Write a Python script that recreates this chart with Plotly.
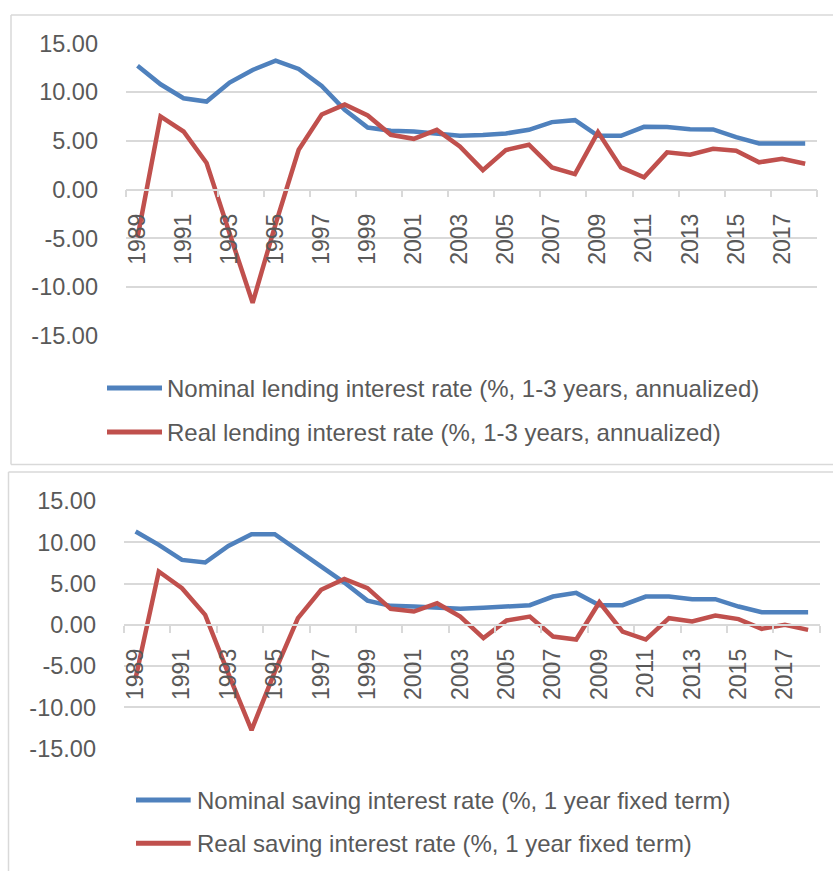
import plotly.graph_objects as go

years = list(range(1989, 2019))
nominal_lending = [12.7, 10.8, 9.37, 9.03, 10.98, 12.27, 13.22, 12.37, 10.63, 8.18,
                   6.37, 6.03, 5.96, 5.69, 5.52, 5.59, 5.76, 6.13, 6.92, 7.12,
                   5.52, 5.52, 6.44, 6.41, 6.2, 6.17, 5.38, 4.74, 4.74, 4.74]
real_lending = [-4.9, 7.5, 5.96, 2.73, -4.5, -11.6, -3.5, 4.09, 7.7, 8.72,
                7.6, 5.62, 5.21, 6.13, 4.43, 2.0, 4.06, 4.6, 2.28, 1.6,
                5.9, 2.28, 1.26, 3.82, 3.58, 4.19, 3.99, 2.8, 3.17, 2.66]
nominal_saving = [11.3, 9.69, 7.87, 7.55, 9.56, 10.98, 10.98, 9.08, 7.14, 5.12,
                  2.94, 2.3, 2.22, 2.02, 1.94, 2.06, 2.22, 2.38, 3.43, 3.87,
                  2.38, 2.38, 3.43, 3.43, 3.11, 3.11, 2.22, 1.54, 1.54, 1.54]
real_saving = [-6.46, 6.46, 4.44, 1.21, -5.9, -12.75, -5.7, 0.81, 4.24, 5.57,
               4.44, 1.94, 1.61, 2.62, 1.0, -1.6, 0.53, 1.0, -1.41, -1.78,
               2.74, -0.81, -1.78, 0.81, 0.4, 1.13, 0.69, -0.48, 0.0, -0.61]
year_labels = [str(y) for y in years[::2]]
y_ticks = [-15, -10, -5, 0, 5, 10, 15]
y_tick_text = ["%.2f" % v for v in y_ticks]

legend_top = ["Nominal lending interest rate (%, 1-3 years, annualized)",
              "Real lending interest rate (%, 1-3 years, annualized)"]
legend_bottom = ["Nominal saving interest rate (%, 1 year fixed term)",
                 "Real saving interest rate (%, 1 year fixed term)"]

W, H = 833, 871
BLUE = "#4F81BD"
RED = "#C0504D"
GRID = "#D9D9D9"
TEXT = "#595959"
FONT = "Liberation Sans, Arial, sans-serif"


def X(px):
    return px / W


def Y(py):
    return 1 - py / H


fig = go.Figure()

panels = [
    dict(x0=126, x1=816.7, ytop=43.3, ybot=336, series=(nominal_lending, real_lending),
         names=legend_top, leg_x0=107, leg_x1=162, leg_tx=165, leg_y=(388, 432)),
    dict(x0=124, x1=819.7, ytop=501, ybot=748.7, series=(nominal_saving, real_saving),
         names=legend_bottom, leg_x0=136, leg_x1=190.7, leg_tx=195, leg_y=(800, 843.3)),
]

shapes = []
annotations = []
for i, p in enumerate(panels):
    sfx = "" if i == 0 else str(i + 1)
    d0, d1 = Y(p["ybot"]), Y(p["ytop"])
    ypos = d0 + (0 - (-15)) / 30 * (d1 - d0)
    for vals, col, nm in zip(p["series"], (BLUE, RED), p["names"]):
        fig.add_trace(go.Scatter(x=years, y=vals, mode="lines", name=nm,
                                 line=dict(color=col, width=4.5),
                                 xaxis="x" + sfx, yaxis="y" + sfx, showlegend=False,
                                 hoverinfo="skip"))
    fig.layout["xaxis" + sfx] = dict(
        domain=[X(p["x0"]), X(p["x1"])], anchor="free", position=ypos, automargin=False,
        range=[1988.5, 2018.5], tickmode="array", tickvals=years[::2], ticktext=year_labels,
        tickangle=-90, ticks="", ticklabelstandoff=14, showgrid=False, zeroline=False,
        showline=True, linecolor=GRID, linewidth=1.5,
        tickfont=dict(family=FONT, size=23, color=TEXT),
        minor=dict(tickmode="array", tickvals=[1988.5 + 2 * k for k in range(16)],
                   ticks="outside", ticklen=7, tickwidth=1.5, tickcolor=GRID, showgrid=False),
    )
    fig.layout["yaxis" + sfx] = dict(
        domain=[d0, d1], anchor="x" + sfx, range=[-15, 15], tickmode="array", automargin=False,
        tickvals=y_ticks, ticktext=y_tick_text, showgrid=True, gridcolor=GRID, gridwidth=1.5,
        zeroline=False, showline=False, ticks="", ticklabelstandoff=27,
        tickfont=dict(family=FONT, size=23.5, color=TEXT),
    )
    for (yy, col, nm) in zip(p["leg_y"], (BLUE, RED), p["names"]):
        shapes.append(dict(type="line", xref="paper", yref="paper",
                           x0=X(p["leg_x0"]), x1=X(p["leg_x1"]), y0=Y(yy), y1=Y(yy),
                           line=dict(color=col, width=5)))
        annotations.append(dict(xref="paper", yref="paper", x=X(p["leg_tx"]), y=Y(yy),
                                xanchor="left", yanchor="middle", showarrow=False, text=nm,
                                font=dict(family=FONT, size=24, color=TEXT)))

# panel borders
border = dict(color=GRID, width=1.5)
shapes += [
    dict(type="line", xref="paper", yref="paper", x0=X(11), x1=X(840), y0=Y(15), y1=Y(15), line=border),
    dict(type="line", xref="paper", yref="paper", x0=X(11), x1=X(11), y0=Y(15), y1=Y(464.5), line=border),
    dict(type="line", xref="paper", yref="paper", x0=X(11), x1=X(840), y0=Y(464.5), y1=Y(464.5), line=border),
    dict(type="line", xref="paper", yref="paper", x0=X(8.5), x1=X(840), y0=Y(472), y1=Y(472), line=border),
    dict(type="line", xref="paper", yref="paper", x0=X(8.5), x1=X(8.5), y0=Y(472), y1=Y(880), line=border),
]

fig.update_layout(template="none", width=W, height=H, autosize=False,
                  margin=dict(l=0, r=0, t=0, b=0, pad=0),
                  paper_bgcolor="white", plot_bgcolor="white",
                  shapes=shapes, annotations=annotations, showlegend=False,
                  font=dict(family=FONT, color=TEXT))

fig.write_html("out.html", config={"displayModeBar": False},
               post_script="document.body.style.margin='0';document.body.style.padding='0';")
